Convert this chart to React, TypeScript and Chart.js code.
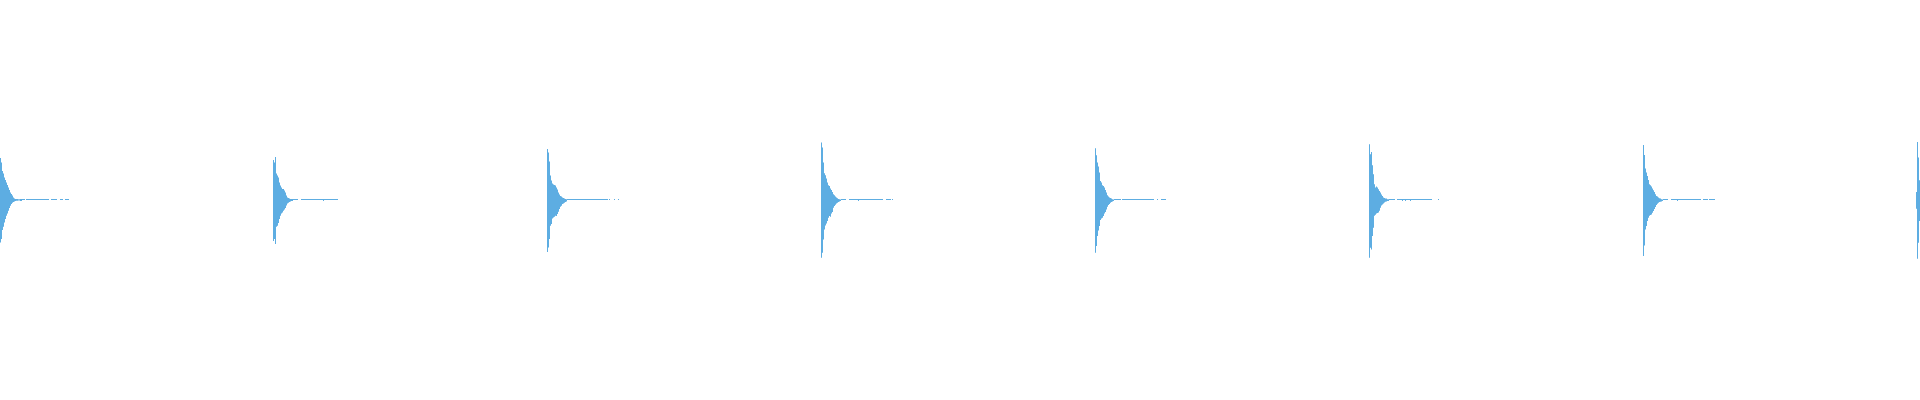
import React, { useEffect, useRef } from "react";
import { Chart, registerables } from "chart.js";

Chart.register(...registerables);

// Number of samples across the plot (one bar per sample)
const SAMPLE_COUNT = 1920;

// Sample index where each burst begins
const burstStarts = [0, 273, 547, 821, 1095, 1369, 1643, 1916];

// Amplitude (percent of full scale), upper and lower envelope of each burst head
const burst1Top = [21, 18.8, 14.5, 13.3, 11.3, 10, 8.7, 7.5, 6.3, 5, 3.8, 3, 2.2, 1.3, 0.8, 0.5, 0.5, 0.5, 0.4, 0.4];
const burst1Bottom = [-21.2, -19.5, -15, -13.4, -11.2, -9.5, -7.9, -6.7, -5.4, -4, -2.9, -2, -1.4, -1, -0.7, -0.5, -0.4, -0.4, -0.3, -0.3];

const burst2Top = [20, 18.8, 21.5, 13.3, 12.2, 11.3, 8.8, 7.2, 6.3, 5.5, 5.5, 4.7, 3.8, 2.2, 1.3, 1, 0.7, 0.5, 0.5, 0.5];
const burst2Bottom = [-20.5, -19.5, -22, -13.4, -12.9, -11.5, -9.5, -7.9, -6.7, -6.2, -5.4, -4.7, -4, -2.8, -1.7, -1.4, -1, -0.7, -0.5, -0.5];

const burst3Top = [25.5, 23.8, 19.3, 12.2, 9.7, 8.3, 7.7, 7.5, 7.2, 6.3, 5.2, 3.8, 2.7, 2, 1.7, 1.3, 1, 0.7, 0.5, 0.4];
const burst3Bottom = [-26, -23.7, -19.5, -12.9, -12, -9.2, -8.7, -8.4, -7.9, -8, -7, -5.9, -4.5, -3.4, -2.9, -2, -1.7, -1.4, -1, -0.7];

const burst4Top = [28.7, 26.2, 18.7, 13.4, 12.4, 10.7, 8.7, 7.4, 7, 5.7, 5, 4, 2.9, 2.4, 1.7, 1.2, 0.9, 0.5, 0.4, 0.3];
const burst4Bottom = [-28.9, -26.4, -19.7, -14.7, -12.7, -11.7, -10.5, -8.9, -8, -8.4, -6.7, -6, -3.9, -3, -2.4, -1.7, -1.4, -1, -0.7, -0.5];

const burst5Top = [25.9, 22.4, 18.7, 16.7, 13.7, 9.5, 8.7, 7.4, 7, 6.2, 5, 3.7, 2.4, 1.7, 1.2, 1, 0.7, 0.4, 0.3];
const burst5Bottom = [-26.4, -23, -18, -15.2, -13, -10, -9.2, -8.9, -8, -6.7, -6, -4.7, -3.4, -2.5, -2, -1.4, -1, -0.7, -0.5];

const burst6Top = [27.9, 22.9, 24, 17.4, 12.9, 7.9, 6.2, 6.7, 6.2, 5.4, 4.5, 3.7, 2.7, 2, 1.2, 1, 0.7, 0.7, 0.4, 0.4];
const burst6Bottom = [-28.9, -23.9, -24.7, -18, -13.9, -7.9, -7.4, -6.7, -6.5, -6.2, -5.4, -3.9, -2.7, -2.2, -1.7, -1.2, -0.9, -0.7, -0.5, -0.5];

const burst7Top = [27.5, 22.5, 15.7, 13.7, 12, 10, 7.9, 7.4, 6.7, 5.7, 4.9, 4, 2.9, 2, 1.7, 1.2, 0.9, 0.7, 0.4, 0.3];
const burst7Bottom = [-28, -22.7, -14.7, -13, -10.5, -8.9, -7.9, -7.5, -7.2, -6.4, -5.5, -4.5, -3.5, -2.5, -1.9, -1.4, -1, -0.9, -0.7, -0.5];

const burst8Top = [4, 29, 21.2, 9.9];
const burst8Bottom = [-4.4, -29.4, -21.4, -10.5];

// Low-level tail after each head: "-" faint sample, "=" slightly larger sample, " " silence
const burst1Tail = "==--- " + "-----------------------" + "  " + "------" + "   " + "---" + "  " + "----";
const burst2Tail = "-----" + "   " + "----------------------" + "=" + "--------------";
const burst3Tail = "-----------------------------------------" + " " + "-" + "    " + "-" + "   " + "-";
const burst4Tail = "-----" + "   " + "---------" + "=" + "------------------------" + "   " + "-----" + " " + "-";
const burst5Tail = "-------" + " " + "--------------------------------" + "   " + "-" + "   " + "-----";
const burst6Tail = "------" + "  " + "-----" + "=" + "--" + "=" + "----" + "=" + "---------------------" + "      " + "-";
const burst7Tail = "-----" + "   " + "------" + "=" + "-----------------------" + "  " + "-----" + " " + "------";
const burst8Tail = "";

// Value pairs that a tail character stands for
const tailFaint: [number, number] = [0, 0.5];
const tailLarger: [number, number] = [-0.5, 0.5];

const headsTop = [burst1Top, burst2Top, burst3Top, burst4Top, burst5Top, burst6Top, burst7Top, burst8Top];
const headsBottom = [burst1Bottom, burst2Bottom, burst3Bottom, burst4Bottom, burst5Bottom, burst6Bottom, burst7Bottom, burst8Bottom];
const tails = [burst1Tail, burst2Tail, burst3Tail, burst4Tail, burst5Tail, burst6Tail, burst7Tail, burst8Tail];

function buildSamples(): ([number, number] | null)[] {
  const out: ([number, number] | null)[] = new Array(SAMPLE_COUNT).fill(null);
  burstStarts.forEach((start, b) => {
    const top = headsTop[b];
    const bottom = headsBottom[b];
    top.forEach((t, i) => {
      const idx = start + i;
      if (idx < SAMPLE_COUNT) out[idx] = [bottom[i], t];
    });
    const tail = tails[b];
    for (let j = 0; j < tail.length; j++) {
      const idx = start + top.length + j;
      if (idx >= SAMPLE_COUNT) break;
      const c = tail[j];
      if (c === "-") out[idx] = tailFaint;
      else if (c === "=") out[idx] = tailLarger;
    }
  });
  return out;
}

export default function App() {
  const canvasRef = useRef<HTMLCanvasElement | null>(null);

  useEffect(() => {
    const canvas = canvasRef.current;
    if (!canvas) return;
    const samples = buildSamples();
    const labels = samples.map((_, i) => String(i));
    const chart = new Chart(canvas, {
      type: "bar",
      data: {
        labels,
        datasets: [
          {
            data: samples as any,
            backgroundColor: "#5dade2",
            borderWidth: 0,
            inflateAmount: 0,
            barPercentage: 1,
            categoryPercentage: 1,
          } as any,
        ],
      },
      options: {
        animation: false,
        responsive: false,
        devicePixelRatio: 1,
        layout: { padding: 0 },
        plugins: { legend: { display: false }, tooltip: { enabled: false } },
        scales: {
          x: { display: false },
          y: { display: false, min: -100, max: 100 },
        },
      },
    });
    return () => chart.destroy();
  }, []);

  return (
    <div style={{ position: "fixed", left: 0, top: 0, width: 1920, height: 400, background: "#fff" }}>
      <canvas ref={canvasRef} width={1920} height={400} style={{ display: "block" }} />
    </div>
  );
}
